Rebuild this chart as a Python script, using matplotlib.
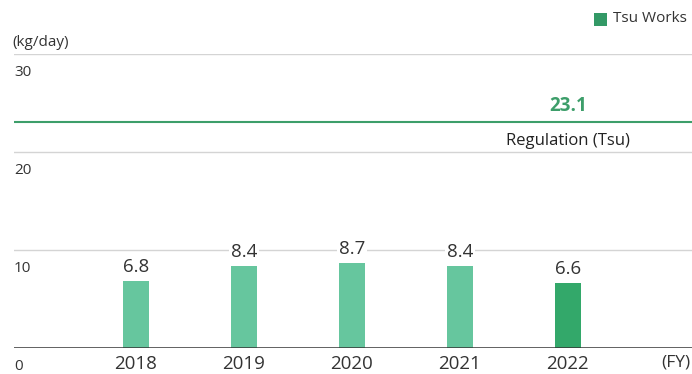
import matplotlib.pyplot as plt
from matplotlib.patches import Rectangle
from matplotlib.transforms import blended_transform_factory

plt.rcParams['font.family'] = ['Open Sans', 'DejaVu Sans']

years = ['2018', '2019', '2020', '2021', '2022']
values = [6.8, 8.4, 8.7, 8.4, 6.6]
regulation = 23.1
yticks = [0, 10, 20, 30]

light = '#66c69e'
dark = '#33a86a'
reg_color = '#3d9e6a'

fig = plt.figure(figsize=(6.92, 3.74), dpi=100)
ax = fig.add_axes([14 / 692, 26 / 374, 678 / 692, 294 / 374])
ax.set_xlim(-1.13, 5.15)
ax.set_ylim(0, 30)

x = list(range(len(years)))
colors = [light] * (len(years) - 1) + [dark]
ax.bar(x, values, width=0.24, color=colors, zorder=2)

for xi, v in zip(x, values):
    ax.text(xi, v + 0.5, f'{v}', ha='center', va='bottom', fontsize=13.5,
            color='#333333', zorder=3,
            bbox=dict(facecolor='white', edgecolor='none', pad=1.5))

# gridlines and y labels sitting just under each line
for t in yticks[1:]:
    ax.axhline(t, color='#d4d4d4', lw=1, zorder=1)
trans = blended_transform_factory(ax.transAxes, ax.transData)
for t in yticks:
    ax.text(0.0, t - 1.1, str(t), transform=trans, ha='left', va='top',
            fontsize=11, color='#333333')
ax.axhline(0, color='#333333', lw=1.8, zorder=4)

# regulation value
ax.axhline(regulation, color=reg_color, lw=1.5, zorder=2)
ax.text(x[-1], regulation + 0.6, f'{regulation}', ha='center', va='bottom',
        fontsize=13.5, fontweight='bold', color=reg_color)
ax.text(x[-1], regulation - 1.2, 'Regulation (Tsu)', ha='center', va='top',
        fontsize=12, color='#222222')

ax.set_xticks([])
ax.set_yticks([])
for s in ax.spines.values():
    s.set_visible(False)

for xi, yr in zip(x, years):
    ax.text(xi, -0.7, yr, ha='center', va='top', fontsize=13.5, color='#333333')
ax.text(5.0, -0.7, '(FY)', ha='center', va='top', fontsize=12.5, color='#333333')

fig.text(12 / 692, 1 - 42 / 374, '(kg/day)', ha='left', va='center',
         fontsize=11, color='#333333')

# legend
fig.patches.append(Rectangle((594 / 692, 1 - 26 / 374), 13 / 692, 13 / 374,
                             transform=fig.transFigure, facecolor='#339966',
                             edgecolor='none'))
fig.text(613 / 692, 1 - 19 / 374, 'Tsu Works', ha='left', va='center',
         fontsize=11, color='#333333')

fig.savefig('out.png', dpi=100)
